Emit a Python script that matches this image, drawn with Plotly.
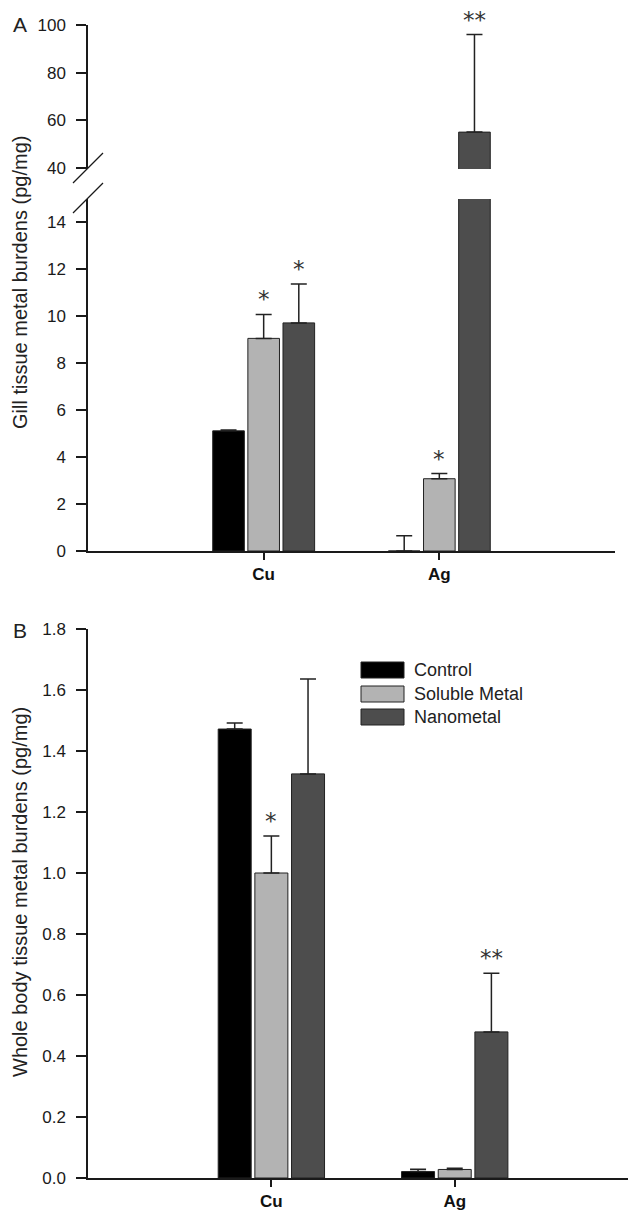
import plotly.graph_objects as go

# ---------------- data ----------------
categories = ["Cu", "Ag"]
groups = ["Control", "Soluble Metal", "Nanometal"]

gill_control = [5.12, 0.0]
gill_control_err = [0.04, 0.65]
gill_soluble = [9.06, 3.08]
gill_soluble_err = [1.02, 0.22]
gill_nano = [9.72, 55.0]
gill_nano_err = [1.66, 41.0]

body_control = [1.472, 0.021]
body_control_err = [0.02, 0.008]
body_soluble = [1.0, 0.028]
body_soluble_err = [0.121, 0.004]
body_nano = [1.325, 0.479]
body_nano_err = [0.311, 0.192]

sig_gill = [["", ""], ["*", "*"], ["*", "**"]]      # per group, per category
sig_body = [["", ""], ["*", ""], ["", "**"]]

gill_ticks_low = [0, 2, 4, 6, 8, 10, 12, 14]
gill_ticks_high = [40, 60, 80, 100]
body_ticks = [0.0, 0.2, 0.4, 0.6, 0.8, 1.0, 1.2, 1.4, 1.6, 1.8]

colors = ["#000000", "#b3b3b3", "#4d4d4d"]

# ---------------- layout helpers ----------------
W, H = 628, 1214
def px(x):
    return x / W
def py(y):
    return 1 - y / H

FONT = "Liberation Sans, Arial, sans-serif"
AX = "#1a1a1a"
BARGAP = 0.4
slot = (1 - BARGAP) / len(groups)

fig = go.Figure()

gill_means = [gill_control, gill_soluble, gill_nano]
gill_errs = [gill_control_err, gill_soluble_err, gill_nano_err]
body_means = [body_control, body_soluble, body_nano]
body_errs = [body_control_err, body_soluble_err, body_nano_err]

def add_bars(means, errs, xa, ya):
    for k, g in enumerate(groups):
        fig.add_trace(go.Bar(
            x=categories, y=means[k], name=g, xaxis=xa, yaxis=ya,
            marker=dict(color=colors[k], line=dict(color="#222222", width=1)),
            error_y=dict(type="data", array=errs[k], arrayminus=[0, 0],
                         symmetric=False, color="#222222", thickness=1.5, width=8),
            showlegend=False, hoverinfo="skip",
        ))

add_bars(gill_means, gill_errs, "x2", "y2")
add_bars(gill_means, gill_errs, "x2", "y3")
add_bars(body_means, body_errs, "x", "y")

# significance stars
STAR = dict(family="DejaVu Sans, sans-serif", size=23, color="#333333")
for k in range(len(groups)):
    for i in range(len(categories)):
        s = sig_gill[k][i]
        if s:
            top = gill_means[k][i] + gill_errs[k][i]
            fig.add_annotation(x=i + (k - 1) * slot, y=top, xref="x2",
                               yref="y3" if top > 15 else "y2", text=s,
                               showarrow=False, yanchor="bottom", font=STAR, yshift=0)
        s = sig_body[k][i]
        if s:
            top = body_means[k][i] + body_errs[k][i]
            fig.add_annotation(x=i + (k - 1) * slot, y=top, xref="x", yref="y",
                               text=s, showarrow=False, yanchor="bottom", font=STAR, yshift=0)

tickfont = dict(family=FONT, size=17, color="#1a1a1a")
yax_common = dict(showgrid=False, zeroline=False, showline=True, linecolor=AX, linewidth=1.5,
                  ticks="outside", ticklen=10, tickwidth=1.5, tickcolor=AX, tickfont=tickfont,
                  ticklabelstandoff=7, automargin=False)
xax_common = dict(showgrid=False, zeroline=False, showline=True, linecolor=AX, linewidth=1.5,
                  ticks="outside", ticklen=7, tickwidth=1.5, tickcolor=AX,
                  tickfont=dict(family=FONT, size=17, color="#111111", weight="bold"),
                  type="category", range=[-1, 2], automargin=False)

fig.update_layout(
    width=W, height=H, autosize=False,
    margin=dict(l=0, r=0, t=0, b=0, pad=0),
    paper_bgcolor="white", plot_bgcolor="white",
    barmode="group", bargap=BARGAP, bargroupgap=0.1,
    xaxis=dict(**xax_common, domain=[px(88), 1.0], anchor="y"),
    xaxis2=dict(**xax_common, domain=[px(88), px(615)], anchor="y2"),
    yaxis=dict(**yax_common, domain=[py(1178), py(629)], range=[0, 1.8],
               tickvals=body_ticks, tickformat=".1f", anchor="x"),
    yaxis2=dict(**yax_common, domain=[py(551), py(199)], range=[0, 15],
                tickvals=gill_ticks_low, anchor="x2"),
    yaxis3=dict(**yax_common, domain=[py(169), py(25)], range=[39.5, 100],
                tickvals=gill_ticks_high, anchor="x2"),
)
fig.layout.xaxis.range = [-1, 1.945]

# axis break marks
for y0 in (183, 213):
    fig.add_shape(type="line", xref="paper", yref="paper",
                  x0=px(73), y0=py(y0), x1=px(103), y1=py(y0 - 30),
                  line=dict(color=AX, width=1.3))

# y-axis titles and panel letters
TITLE = dict(family=FONT, size=20, color="#222222")
fig.add_annotation(text="Gill tissue metal burdens (pg/mg)", textangle=-90,
                   x=px(20), y=py(283), xref="paper", yref="paper",
                   xanchor="center", yanchor="middle",
                   showarrow=False, font=TITLE)
fig.add_annotation(text="Whole body tissue metal burdens (pg/mg)", textangle=-90,
                   x=px(20), y=py(892), xref="paper", yref="paper",
                   xanchor="center", yanchor="middle",
                   showarrow=False, font=TITLE)
LETTER = dict(family=FONT, size=21, color="#222222")
fig.add_annotation(text="A", x=px(20), y=py(25), xref="paper", yref="paper",
                   xanchor="center", yanchor="middle", showarrow=False, font=LETTER)
fig.add_annotation(text="B", x=px(20), y=py(630), xref="paper", yref="paper",
                   xanchor="center", yanchor="middle", showarrow=False, font=LETTER)

# legend (drawn)
rows = [670, 694, 717]
for k, g in enumerate(groups):
    fig.add_shape(type="rect", xref="paper", yref="paper",
                  x0=px(361), x1=px(404), y0=py(rows[k] + 8), y1=py(rows[k] - 8),
                  fillcolor=colors[k], line=dict(color="#222222", width=1))
    fig.add_annotation(text=g, x=px(412), y=py(rows[k]), xref="paper", yref="paper",
                       xanchor="left", yanchor="middle", showarrow=False,
                       font=dict(family=FONT, size=18, color="#222222"))

fig.write_html("out.html", config={"displayModeBar": False},
               post_script="document.body.style.margin='0';document.body.style.overflow='hidden';")
